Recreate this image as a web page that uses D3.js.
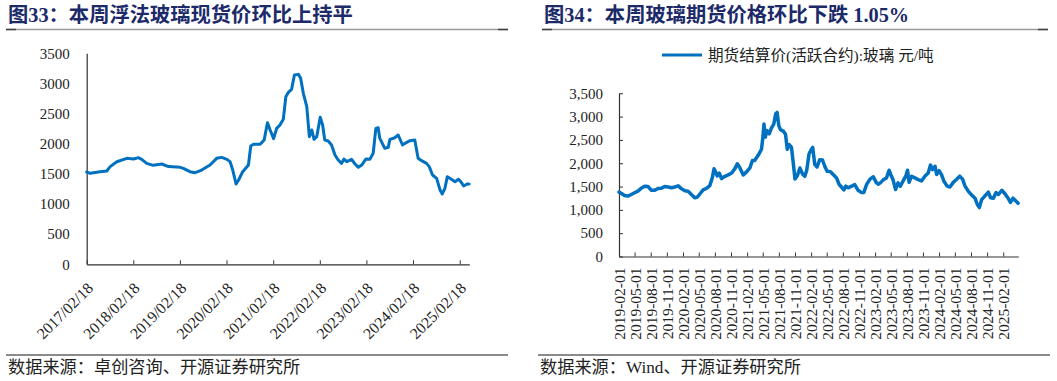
<!DOCTYPE html>
<html>
<head>
<meta charset="utf-8">
<script src="https://cdn.jsdelivr.net/npm/d3@7"></script>
<style>
  html, body { margin: 0; padding: 0; background: #ffffff; }
  svg { display: block; }
</style>
</head>
<body>
<svg id="chart" width="1057" height="381"></svg>
<script>
// ---------- DATA ----------
const leftTitle = "图33：本周浮法玻璃现货价环比上持平";
const rightTitle = "图34：本周玻璃期货价格环比下跌 1.05%";
const leftSource = "数据来源：卓创咨询、开源证券研究所";
const rightSource = "数据来源：Wind、开源证券研究所";
const rightLegend = "期货结算价(活跃合约):玻璃 元/吨";

const leftDates = [
  "2017-02-18","2017-03-17","2017-06-03","2017-07-25","2017-08-21","2017-10-12","2017-12-29",
  "2018-02-21","2018-03-29","2018-04-25","2018-06-03","2018-07-25","2018-09-29","2018-11-21",
  "2019-02-21","2019-03-17","2019-05-08","2019-06-17","2019-08-08","2019-10-12","2019-12-03",
  "2020-01-12","2020-02-21","2020-03-17","2020-04-07","2020-05-03","2020-05-23","2020-06-24",
  "2020-08-08","2020-08-26","2020-09-17","2020-11-08","2020-12-09","2021-01-04","2021-01-25",
  "2021-02-21","2021-03-17","2021-04-12","2021-05-08","2021-05-28","2021-06-17","2021-07-12",
  "2021-08-03","2021-09-03","2021-09-21","2021-10-12","2021-11-08","2021-11-28","2021-12-17",
  "2022-01-04","2022-01-25","2022-02-21","2022-03-12","2022-03-29","2022-04-25","2022-05-21",
  "2022-06-17","2022-07-12","2022-08-08","2022-08-26","2022-09-17","2022-10-25","2022-11-21",
  "2022-12-17","2023-01-12","2023-02-15","2023-03-17","2023-04-12","2023-05-03","2023-05-21",
  "2023-06-03","2023-07-12","2023-08-08","2023-08-21","2023-09-29","2023-10-25","2023-11-28",
  "2023-12-17","2024-01-25","2024-03-03","2024-03-29","2024-04-25","2024-06-03","2024-06-24",
  "2024-07-20","2024-08-21","2024-09-17","2024-10-04","2024-10-25","2024-11-13","2024-12-03",
  "2025-01-12","2025-02-08","2025-02-26","2025-03-21","2025-04-17","2025-05-02"
];
const leftValues = [
  1530,1508,1535,1547,1620,1700,1757,
  1746,1768,1740,1674,1641,1663,1620,
  1608,1591,1536,1519,1563,1646,1757,
  1773,1740,1702,1563,1331,1398,1536,
  1646,1961,1989,1989,2061,2348,2227,
  2083,2254,2309,2403,2779,2851,2901,
  3138,3149,3083,2834,2613,2116,2227,
  2072,2116,2437,2309,2061,2044,1978,
  1812,1729,1674,1746,1702,1740,1663,
  1608,1646,1746,1740,1840,2254,2265,
  2088,1923,1939,2072,2099,2144,1978,
  2006,2050,2061,1757,1718,1674,1620,
  1481,1425,1232,1166,1260,1453,1425,
  1370,1409,1370,1298,1331,1331
];
const leftTickLabels = ["2017/02/18","2018/02/18","2019/02/18","2020/02/18","2021/02/18",
  "2022/02/18","2023/02/18","2024/02/18","2025/02/18"];
const leftYTicks = [0,500,1000,1500,2000,2500,3000,3500];

const rightDates = [
  "2019-02-01","2019-02-15","2019-03-05","2019-03-24","2019-04-12","2019-05-01","2019-05-20",
  "2019-06-08","2019-06-27","2019-07-16","2019-08-05","2019-08-24","2019-09-12","2019-10-01",
  "2019-10-20","2019-11-08","2019-11-27","2019-12-16","2020-01-05","2020-01-24","2020-02-12",
  "2020-03-01","2020-03-20","2020-04-08","2020-04-21","2020-05-07","2020-05-26","2020-06-14",
  "2020-07-03","2020-07-18","2020-07-27","2020-08-07","2020-08-14","2020-08-26","2020-09-08",
  "2020-09-27","2020-10-16","2020-11-05","2020-11-24","2020-12-07","2020-12-22","2021-01-10",
  "2021-01-30","2021-02-17","2021-03-03","2021-03-16","2021-04-05","2021-04-24","2021-05-03",
  "2021-05-08","2021-05-16","2021-05-25","2021-06-07","2021-06-20","2021-07-03","2021-07-14",
  "2021-07-22","2021-08-01","2021-08-10","2021-08-26","2021-09-08","2021-09-18","2021-09-29",
  "2021-10-12","2021-10-22","2021-11-01","2021-11-14","2021-11-29","2021-12-14","2021-12-27",
  "2022-01-07","2022-01-20","2022-02-01","2022-02-10","2022-02-22","2022-03-07","2022-03-22",
  "2022-04-07","2022-04-20","2022-05-03","2022-05-22","2022-06-07","2022-06-26","2022-07-10",
  "2022-07-24","2022-08-07","2022-08-18","2022-09-01","2022-09-20","2022-10-08","2022-10-27",
  "2022-11-16","2022-11-29","2022-12-14","2023-01-03","2023-01-22","2023-02-07","2023-02-19",
  "2023-03-03","2023-03-22","2023-04-07","2023-04-22","2023-05-01","2023-05-14","2023-05-29",
  "2023-06-12","2023-06-25","2023-07-10","2023-07-26","2023-08-05","2023-08-14","2023-08-28",
  "2023-09-16","2023-10-05","2023-10-24","2023-11-12","2023-12-01","2023-12-14","2023-12-26",
  "2024-01-09","2024-01-18","2024-02-01","2024-02-15","2024-02-28","2024-03-18","2024-04-03",
  "2024-04-22","2024-05-10","2024-05-29","2024-06-14","2024-06-27","2024-07-16","2024-08-05",
  "2024-08-24","2024-09-07","2024-09-18","2024-10-01","2024-10-20","2024-11-08","2024-11-21",
  "2024-12-07","2024-12-22","2025-01-05","2025-01-24","2025-02-12","2025-03-01","2025-03-14",
  "2025-03-29","2025-04-14","2025-04-27"
];
const rightValues = [
  1380,1352,1309,1295,1330,1366,1401,
  1465,1508,1500,1420,1420,1460,1465,
  1500,1490,1475,1490,1515,1451,1410,
  1401,1330,1259,1270,1340,1430,1460,
  1520,1700,1880,1800,1730,1790,1670,
  1720,1750,1790,1890,1990,1900,1750,
  1820,1899,2060,2060,2170,2300,2600,
  2840,2560,2700,2630,2760,2840,3060,
  3090,2800,2720,2690,2620,2300,2400,
  2340,2010,1660,1730,1899,1770,1720,
  1850,2200,2290,2340,1971,1920,2077,
  2070,1935,1830,1820,1757,1686,1550,
  1490,1430,1508,1473,1508,1544,1420,
  1370,1375,1540,1660,1710,1590,1550,
  1579,1650,1686,1850,1760,1650,1437,
  1579,1508,1615,1722,1850,1590,1722,
  1686,1650,1620,1722,1793,1960,1864,
  1935,1760,1840,1757,1620,1508,1490,
  1590,1650,1722,1660,1520,1401,1320,
  1250,1110,1050,1220,1300,1380,1260,
  1250,1370,1330,1420,1340,1250,1160,
  1250,1190,1140
];
const rightTickLabels = [
  "2019-02-01","2019-05-01","2019-08-01","2019-11-01","2020-02-01","2020-05-01","2020-08-01",
  "2020-11-01","2021-02-01","2021-05-01","2021-08-01","2021-11-01","2022-02-01","2022-05-01",
  "2022-08-01","2022-11-01","2023-02-01","2023-05-01","2023-08-01","2023-11-01","2024-02-01",
  "2024-05-01","2024-08-01","2024-11-01","2025-02-01"
];
const rightYTicks = [0,500,1000,1500,2000,2500,3000,3500];

// ---------- STYLE ----------
const LINE_COLOR = "#0070C0";
const TITLE_COLOR = "#1c2a69";
const SERIF = "'Liberation Serif', 'Noto Sans CJK SC', serif";
const TITLE_FONT = "'Liberation Serif', 'Noto Sans CJK SC', serif";

const svg = d3.select("#chart");
svg.append("rect").attr("width", 1057).attr("height", 381).attr("fill", "#ffffff");

const parseDash = d3.timeParse("%Y-%m-%d");
const parseSlash = d3.timeParse("%Y/%m/%d");

// ---------- HEADERS / FOOTERS ----------
function header(x0, x1, title) {
  svg.append("text").attr("x", x0 + 2).attr("y", 21.5)
    .attr("font-family", TITLE_FONT).attr("font-size", 20.3).attr("font-weight", "bold")
    .attr("fill", TITLE_COLOR).text(title);
  svg.append("line").attr("x1", x0).attr("x2", x1).attr("y1", 29.5).attr("y2", 29.5)
    .attr("stroke", "#9a9a9a").attr("stroke-width", 1.5);
  svg.append("line").attr("x1", x0).attr("x2", x0 + 10).attr("y1", 29.5).attr("y2", 29.5)
    .attr("stroke", "#404040").attr("stroke-width", 1.5);
  svg.append("line").attr("x1", x1 - 10).attr("x2", x1).attr("y1", 29.5).attr("y2", 29.5)
    .attr("stroke", "#404040").attr("stroke-width", 1.5);
}
function footer(x0, x1, src) {
  svg.append("line").attr("x1", x0).attr("x2", x1).attr("y1", 355).attr("y2", 355)
    .attr("stroke", "#8a8a8a").attr("stroke-width", 2);
  svg.append("text").attr("x", x0 + 2).attr("y", 367).attr("dominant-baseline", "central")
    .attr("font-family", SERIF).attr("font-size", 17.2).attr("fill", "#222")
    .text(src);
}
header(6, 508, leftTitle);
header(542, 1048, rightTitle);
footer(6, 508, leftSource);
footer(538, 1050, rightSource);

// ---------- LEFT CHART ----------
{
  const x = d3.scaleTime()
    .domain([parseDash("2017-02-18"), parseDash("2025-05-04")])
    .range([86.7, 469.3]);
  const y = d3.scaleLinear().domain([0, 3500]).range([264.3, 53.2]);
  const data = leftDates.map((d, i) => ({ date: parseDash(d), value: leftValues[i] }));
  const tickDates = leftTickLabels.map(parseSlash);

  const gx = svg.append("g").attr("transform", `translate(0,${y(0)})`)
    .call(d3.axisBottom(x).tickValues(tickDates).tickSizeInner(-4).tickSizeOuter(0)
      .tickFormat((d, i) => leftTickLabels[i]));
  gx.select(".domain").attr("stroke", "#333").attr("stroke-width", 1.2);
  gx.selectAll(".tick line").attr("stroke", "#333");
  gx.selectAll(".tick text")
    .attr("font-family", SERIF).attr("font-size", 15.8).attr("fill", "#222")
    .attr("text-anchor", "end").attr("x", 0).attr("y", 0).attr("dy", "0.35em")
    .attr("transform", "translate(3,21) rotate(-45)");

  const gy = svg.append("g").attr("transform", `translate(${x.range()[0]},0)`)
    .call(d3.axisLeft(y).tickValues(leftYTicks).tickSize(0).tickPadding(17)
      .tickFormat(d3.format("d")));
  gy.select(".domain").attr("stroke", "#333").attr("stroke-width", 1.2);
  gy.selectAll(".tick text").attr("font-family", SERIF).attr("font-size", 15).attr("fill", "#222");

  svg.append("path").datum(data)
    .attr("fill", "none").attr("stroke", LINE_COLOR).attr("stroke-width", 3)
    .attr("stroke-linejoin", "round").attr("stroke-linecap", "round")
    .attr("d", d3.line().x(d => x(d.date)).y(d => y(d.value)));
}

// ---------- RIGHT CHART ----------
{
  const x = d3.scaleTime()
    .domain([parseDash("2019-02-01"), parseDash("2025-04-28")])
    .range([619, 1018.3]);
  const y = d3.scaleLinear().domain([0, 3500]).range([256.5, 93.3]);
  const data = rightDates.map((d, i) => ({ date: parseDash(d), value: rightValues[i] }));
  const tickDates = rightTickLabels.map(parseDash);

  const gx = svg.append("g").attr("transform", `translate(0,${y(0)})`)
    .call(d3.axisBottom(x).tickValues(tickDates).tickSizeInner(-4).tickSizeOuter(0)
      .tickFormat((d, i) => rightTickLabels[i]));
  gx.select(".domain").attr("stroke", "#333").attr("stroke-width", 1.2);
  gx.selectAll(".tick line").attr("stroke", "#333");
  gx.selectAll(".tick text")
    .attr("font-family", SERIF).attr("font-size", 15.5).attr("fill", "#222")
    .attr("text-anchor", "end").attr("x", -11).attr("y", 0).attr("dy", "0.35em")
    .attr("transform", "rotate(-90)");

  const gy = svg.append("g").attr("transform", `translate(${x.range()[0]},0)`)
    .call(d3.axisLeft(y).tickValues(rightYTicks).tickSizeInner(-4).tickSizeOuter(0)
      .tickPadding(16).tickFormat(d3.format(",")));
  gy.select(".domain").attr("stroke", "#333").attr("stroke-width", 1.2);
  gy.selectAll(".tick line").attr("stroke", "#333");
  gy.selectAll(".tick text").attr("font-family", SERIF).attr("font-size", 15).attr("fill", "#222");

  svg.append("path").datum(data)
    .attr("fill", "none").attr("stroke", LINE_COLOR).attr("stroke-width", 3.5)
    .attr("stroke-linejoin", "round").attr("stroke-linecap", "round")
    .attr("d", d3.line().x(d => x(d.date)).y(d => y(d.value)));

  // legend
  svg.append("line").attr("x1", 662).attr("x2", 702).attr("y1", 55).attr("y2", 55)
    .attr("stroke", LINE_COLOR).attr("stroke-width", 3.2);
  svg.append("text").attr("x", 708).attr("y", 55).attr("dominant-baseline", "central")
    .attr("font-family", SERIF).attr("font-size", 15.6).attr("fill", "#222")
    .text(rightLegend);
}
</script>
</body>
</html>
